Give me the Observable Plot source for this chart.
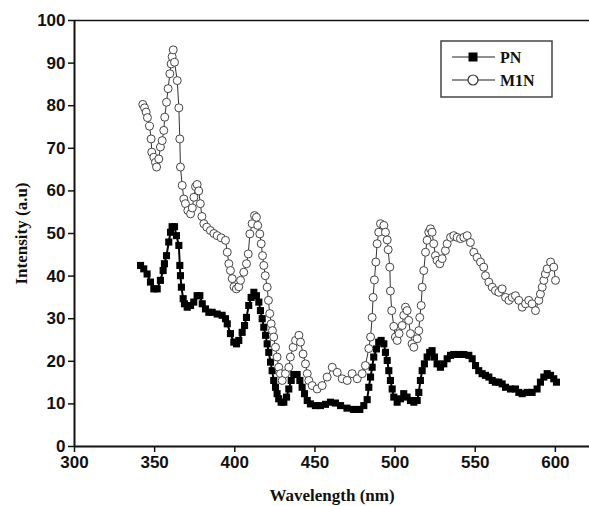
<!DOCTYPE html>
<html><head><meta charset="utf-8">
<script src="https://cdn.jsdelivr.net/npm/d3@7"></script>
<script src="https://cdn.jsdelivr.net/npm/@observablehq/plot@0.6"></script>
<style>
body{margin:0;background:#fff;}
#wrap{position:relative;width:589px;height:506px;overflow:hidden;}
#wrap svg{overflow:visible;}
g[aria-label="x-axis label"] text, g[aria-label="y-axis label"] text{font-family:"Liberation Serif","Times New Roman",serif;font-weight:bold;font-size:17px;}
#legend{position:absolute;left:440px;top:40px;}
</style></head><body><div id="wrap"></div>
<script>
const seriesNames = ["PN", "M1N"];
const xTicks = [300, 350, 400, 450, 500, 550, 600];
const yTicks = [0, 10, 20, 30, 40, 50, 60, 70, 80, 90, 100];

const pnWavelength = [341.2,343.2,345.3,347.4,349.5,351.6,353.6,355.3,356.1,357.4,358.8,359.9,360.9,362.4,363.6,365.1,365.7,366.1,366.7,367.8,368.6,370.3,372.4,374.4,376.5,378.2,379.7,381.7,383.8,385.9,389,392.1,394.2,395.3,397.3,399.4,401.1,402.5,404.6,406.1,407.3,408.7,410.2,411.9,413.5,415,416,417.1,418.1,419.2,420.2,421.2,422.3,423.3,424.3,425.4,426.4,427.4,428.9,430.6,432.3,433.7,435.2,436.8,438.9,440.6,442,443.5,445.2,447.2,450.3,453.5,456.6,459.7,462.8,466,470,474,478,480.5,482.6,483.6,484.7,485.7,486.7,488.4,489.8,491.3,493,494,495.1,496.1,497.1,498.2,499.2,501.3,503.4,505.4,507.5,509.6,511.7,513.8,514.8,515.8,516.9,518.3,520,521.6,523.1,524.6,526.2,528.3,530.4,532.5,534.6,536.6,539.8,542.9,546,548.1,550.2,552.2,554.3,556.4,558.5,560.6,562.6,564.7,566.8,568.9,572,575.1,577.2,579.3,582.4,585.5,588.6,590.7,592.8,594.9,597,599,600.7];
const pnIntensity = [42.5,41.7,40.5,38.6,37,37,39,41.3,42.9,44.8,48,50.3,51.6,51.6,49.5,47.2,42.5,40.1,37.4,34.7,33.5,32.7,33.1,33.9,35.4,35.4,33.5,32.3,31.5,31.5,31.1,30.8,30,28.8,26.5,24.5,24.1,24.9,26.8,28.4,30.3,33.1,35,36.2,35.4,33.9,31.9,30,28,26.1,24.1,22.1,19.8,17.8,15.5,13.9,12.4,11.2,10.4,10.4,11.6,13.5,15.5,16.9,16.9,15.5,13.9,12.4,10.8,10,9.6,9.6,9.9,10.4,10.2,9.6,9,8.7,8.7,9.6,11,13.9,16.3,18.6,21,22.9,24.5,24.9,24.1,22.1,20.2,17.8,15.5,13.5,11.6,10.4,11.2,12.4,11.6,10.8,10.4,10.8,12.7,15.5,17.8,19.4,21,22.1,22.5,21,19.4,18.6,19.4,20.6,21.4,21.6,21.6,21.6,21.4,20.6,19,17.8,17.1,16.7,16.3,15.5,15.1,15.1,14.7,13.9,13.5,13.5,12.7,12.4,12.7,12.7,13.5,15.1,16.3,17.1,16.7,15.9,15.1];

const m1nWavelength = [342.6,343.7,344.7,345.5,346.8,347.8,348.2,349.5,350.5,351.2,352.6,353.6,354.7,355.7,356.3,357.4,358.4,359.5,360.3,360.9,361.6,362.4,364.1,365.1,365.7,366.1,367.2,368.2,369.2,370.7,372.4,373.5,374.5,375.5,376.5,377.5,378.5,379.5,380.7,382.5,384.8,387,389,391.5,394.2,395.3,396.3,397.3,398.4,399.5,401,402.5,403.6,405.6,407.3,408.4,409.4,410.8,412.3,413.5,414.3,415.6,416.5,417.3,418.1,419,420.2,421,421.8,422.7,423.5,424.3,425.4,426.4,427.4,428.5,429.6,431.6,433.7,434.7,436.4,437.9,440,441,442.6,444.1,445.2,446.2,448.3,451.4,454.5,457.6,460.8,463.9,467,470.1,473.2,476.4,479.5,481.5,483.6,484.7,485.7,486.3,487.1,488,488.8,489.8,490.9,493,494,495.1,495.7,496.7,497.1,497.9,499.2,500.2,501.3,502.5,504.4,505.4,506.5,507.5,508.5,509.6,510.6,511.7,513.8,514.8,515.4,516.3,516.9,517.9,519,520,521,522.1,523.1,524.1,525.2,526.2,527.9,529.4,531.4,532.5,534.6,536.6,538.7,540.8,542.9,545,547,549.1,551.2,553.3,555.3,556.4,558.5,560.6,562.6,564.7,566.8,568.9,571,573.1,575.1,577.2,579.3,581.4,583.4,585.5,587.6,589.7,590.7,591.8,592.8,593.8,594.9,597,599,600.1];
const m1nIntensity = [80.3,79.5,78.5,77.2,75.2,72.2,69.1,67.9,66.7,65.6,67.5,70.3,71.8,74.2,77.3,80.8,84,87.5,89.8,91.5,93.1,90.2,85.9,79.5,72.2,65.6,61.3,58.1,57,55.4,54.6,56,58.5,61,61.5,60,57,54,52.3,51.5,50.7,50,49.5,49,48.4,45.6,42.9,41.3,39.4,37.5,37,37.5,39,40.9,42.9,45.2,49.9,52.3,54.2,53.8,51.9,49.9,47.6,44.8,42.5,40.1,37.4,34.3,31.2,28.8,27.2,25.7,23.3,21,18.6,17.1,15.5,17.1,18.6,21,23.3,24.9,26.1,24.5,21.7,19.4,17.1,15.5,14.3,13.5,14.3,16.3,18.6,17.4,15.9,15.5,17.1,15.9,17.1,19,23,25.7,30.3,35,39.1,43.3,47.6,50.3,52.3,51.9,50.3,48.5,46.2,42.1,36.5,31.9,28.2,25.7,24.9,26.5,28.4,30.8,32.7,31.9,29.6,26.5,24.1,23.3,25.3,27.2,30.3,33.1,37.4,41.3,45.6,48.4,50.3,51.1,50.3,47.6,44.8,43.7,42.9,44.1,46,47.6,49.1,49.5,49.1,48.8,49.1,49.5,47.9,45.6,44.4,43.3,42.1,40.1,38.6,37.4,36.6,36.2,37,35,34.3,35,35.4,34.3,32.7,33.5,34.3,33.5,31.9,34.3,35.8,37.4,39,40.5,41.7,43.3,42.1,39];

const pn = pnWavelength.map((w, i) => ({w, v: pnIntensity[i]}));
const m1n = m1nWavelength.map((w, i) => ({w, v: m1nIntensity[i]}));

const chart = Plot.plot({
  width: 589, height: 506,
  marginLeft: 74, marginRight: 0, marginTop: 20, marginBottom: 60,
  x: {domain: [300, 621.3]},
  y: {domain: [0, 100]},
  style: {fontFamily: '"Liberation Sans", Arial, sans-serif', fontSize: "17px", fontWeight: "bold", color: "#111", background: "#fff"},
  marks: [
    Plot.axisX(xTicks, {tickSize: 6, tickPadding: 3, strokeWidth: 1.5, label: "Wavelength (nm)", labelAnchor: "center", labelArrow: "none", labelOffset: 54}),
    Plot.axisY(yTicks, {tickSize: 6, tickPadding: 3, strokeWidth: 1.5, label: "Intensity (a.u)", labelAnchor: "center", labelArrow: "none", labelOffset: 60}),
    Plot.ruleX([300], {stroke: "#111", strokeWidth: 2}),
    Plot.ruleY([0], {stroke: "#111", strokeWidth: 2}),
    Plot.ruleY([100], {stroke: "#111", strokeWidth: 1.5}),
    Plot.line(pn, {x: "w", y: "v", stroke: "#000", strokeWidth: 2}),
    Plot.dot(pn, {x: "w", y: "v", symbol: "square", r: 4, fill: "#000", stroke: "none"}),
    Plot.line(m1n, {x: "w", y: "v", stroke: "#333", strokeWidth: 1}),
    Plot.dot(m1n, {x: "w", y: "v", symbol: "circle", r: 4, fill: "#fff", stroke: "#444", strokeWidth: 1})
  ]
});
document.getElementById("wrap").appendChild(chart);

// legend
const ns = "http://www.w3.org/2000/svg";
const lg = document.createElementNS(ns, "svg");
lg.setAttribute("id", "legend");
lg.setAttribute("width", 114); lg.setAttribute("height", 58);
const mk = (tag, attrs) => { const e = document.createElementNS(ns, tag); for (const k in attrs) e.setAttribute(k, attrs[k]); lg.appendChild(e); return e; };
mk("rect", {x: 1, y: 1, width: 111, height: 56, fill: "#fff", stroke: "#444", "stroke-width": 1.5});
seriesNames.forEach((name, i) => {
  const cy = 17 + i * 23;
  mk("line", {x1: 12, x2: 55, y1: cy, y2: cy, stroke: "#222", "stroke-width": 1.2});
  if (i === 0) mk("rect", {x: 28.5, y: cy - 4.5, width: 9, height: 9, fill: "#000"});
  else mk("circle", {cx: 33, cy: cy, r: 5, fill: "#fff", stroke: "#333", "stroke-width": 1.2});
  const t = mk("text", {x: 60, y: cy + 5.5, "font-family": '"Liberation Serif", serif', "font-weight": "bold", "font-size": "16px", fill: "#111"});
  t.textContent = name;
});
document.getElementById("wrap").appendChild(lg);
</script></body></html>
